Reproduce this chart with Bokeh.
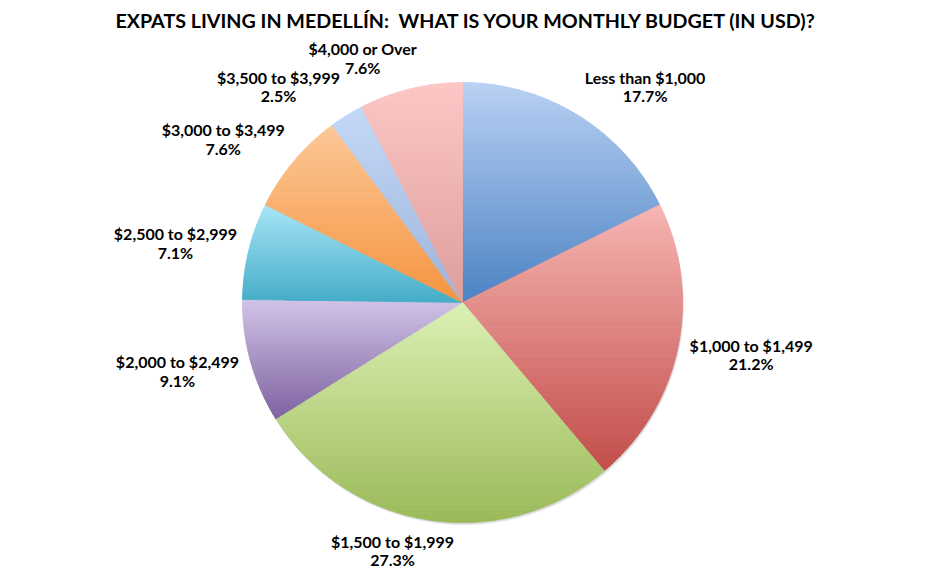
import numpy as np
from bokeh.plotting import figure
from bokeh.models import ColumnDataSource
from bokeh.core.properties import value
from bokeh.embed import file_html
from bokeh.resources import INLINE

# ---------------- data ----------------
title_text = "EXPATS LIVING IN MEDELLÍN:  WHAT IS YOUR MONTHLY BUDGET (IN USD)?"
categories = ["Less than $1,000", "$1,000 to $1,499", "$1,500 to $1,999",
              "$2,000 to $2,499", "$2,500 to $2,999", "$3,000 to $3,499",
              "$3,500 to $3,999", "$4,000 or Over"]
percents = [17.7, 21.2, 27.3, 9.1, 7.1, 7.6, 2.5, 7.6]

# gradient colours (top of slice -> bottom of slice)
top_colors = ["#bad1f4", "#f7b6b3", "#dcf1b5", "#d2c4e8", "#a8e5f8", "#fdc898", "#c4d9f7", "#fdc7c6"]
bottom_colors = ["#4c83c3", "#c24c49", "#9aba58", "#7e62a1", "#45adc7", "#f5943f", "#9db4dc", "#dd9e9c"]

# ---------------- layout ----------------
W, H = 932, 572
CX, CY, R = 462, 302, 220          # pie centre / radius in pixels
x_range = (-CX / R, (W - CX) / R)
y_range = (-(H - CY) / R, CY / R)

p = figure(width=W, height=H, x_range=x_range, y_range=y_range,
           output_backend="svg", toolbar_location=None,
           x_axis_type=None, y_axis_type=None, min_border=0,
           background_fill_color="white", border_fill_color="white")
p.outline_line_color = None
p.grid.visible = False


def hex2rgb(h):
    h = h.lstrip("#")
    return np.array([int(h[i:i + 2], 16) for i in (0, 2, 4)], dtype=float)


def rgb2hex(c):
    c = np.clip(np.round(c), 0, 255).astype(int)
    return "#%02x%02x%02x" % tuple(c)


def clip_edge(pts, f, keep_above):
    out = []
    n = len(pts)
    for i in range(n):
        a = pts[i]
        b = pts[(i + 1) % n]
        ia = a[1] >= f if keep_above else a[1] <= f
        ib = b[1] >= f if keep_above else b[1] <= f
        if ia:
            out.append(a)
        if ia != ib:
            t = (f - a[1]) / (b[1] - a[1])
            out.append((a[0] + t * (b[0] - a[0]), f))
    return out


def clip_strip(pts, y0, y1):
    pts = clip_edge(pts, y0, True)
    if len(pts) < 3:
        return []
    pts = clip_edge(pts, y1, False)
    return pts if len(pts) >= 3 else []


total = sum(percents)
cum = np.concatenate([[0], np.cumsum(percents)]) / total
start_ang = np.pi / 2 - cum[:-1] * 2 * np.pi
end_ang = np.pi / 2 - cum[1:] * 2 * np.pi

# soft shadow under the pie
p.circle(x=[0.006], y=[-0.012], radius=1.0, fill_color="#000000", fill_alpha=0.10, line_color=None)
p.circle(x=[0.003], y=[-0.006], radius=1.0, fill_color="#000000", fill_alpha=0.08, line_color=None)

xs, ys, cols = [], [], []
for i in range(len(percents)):
    a0, a1 = start_ang[i], end_ang[i]
    n_arc = max(8, int(abs(a0 - a1) * 120))
    arc = np.linspace(a0, a1, n_arc)
    poly = [(0.0, 0.0)] + [(np.cos(a), np.sin(a)) for a in arc]
    ytop = max(pt[1] for pt in poly)
    ybot = min(pt[1] for pt in poly)
    n_strips = max(10, int((ytop - ybot) * R / 2.5))
    edges = np.linspace(ytop, ybot, n_strips + 1)
    c_top, c_bot = hex2rgb(top_colors[i]), hex2rgb(bottom_colors[i])
    for k in range(n_strips):
        y_hi, y_lo = edges[k], edges[k + 1]
        piece = clip_strip(poly, y_lo, y_hi)
        if not piece:
            continue
        t = (k + 0.5) / n_strips
        xs.append([q[0] for q in piece])
        ys.append([q[1] for q in piece])
        cols.append(rgb2hex(c_top + t * (c_bot - c_top)))

src = ColumnDataSource(dict(xs=xs, ys=ys, color=cols))
p.patches("xs", "ys", source=src, fill_color="color", line_color="color", line_width=0.8)

# ---------------- labels ----------------
gap = 12 / R
for i, cat in enumerate(categories):
    mid = (start_ang[i] + end_ang[i]) / 2
    c, s = np.cos(mid), np.sin(mid)
    px, py = (1 + gap) * c, (1 + gap) * s
    fx = 0.5 - 0.5 * float(np.clip(3.5 * c, -1, 1))
    fy = 0.5 + 0.5 * float(np.clip(1.2 * s, -1, 1))
    p.text(x=[px], y=[py], text=[f"{cat}\n{percents[i]:.1f}%"],
           anchor=value((fx, fy)), text_align="center",
           text_font=value("Lato"), text_font_style="bold",
           text_font_size="16px", text_color="#000000", text_line_height=0.98)

# ---------------- title ----------------
p.text(x=[(W / 2 - CX) / R], y=[(CY - 20) / R], text=[title_text.replace("  ", " \u00a0")],
       text_align="center", text_baseline="middle",
       text_font=value("Lato"), text_font_style="bold",
       text_font_size="19.7px", text_color="#000000")

open("out.html", "w").write(file_html(p, INLINE))
